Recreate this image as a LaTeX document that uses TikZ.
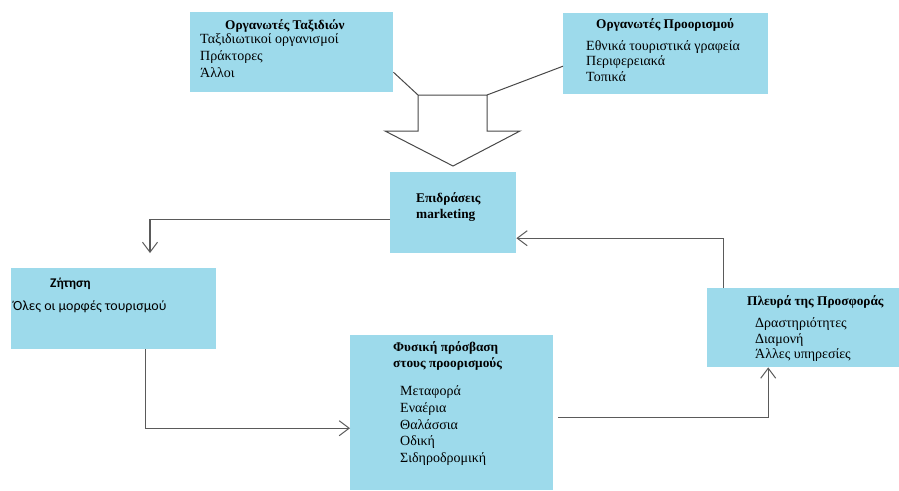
\documentclass[tikz,border=0pt]{standalone}
\usepackage{fontspec}
\setmainfont{Liberation Serif}
\newfontfamily\calfont{Carlito}
\usetikzlibrary{arrows.meta}

\definecolor{boxblue}{RGB}{157,218,235}
\definecolor{linegray}{RGB}{90,90,90}

\begin{document}
\begin{tikzpicture}[x=1pt,y=-1pt,
    box/.style={fill=boxblue,draw=none,anchor=north west,inner sep=0pt},
    txt/.style={anchor=base west,inner sep=0pt,font=\fontsize{14}{16}\selectfont},
    head/.style={txt,font=\fontsize{13.3}{15}\selectfont\bfseries},
    flow/.style={draw=linegray,line width=1.1pt,-{Straight Barb[length=10pt,width=15pt,line width=1pt]}},
    feed/.style={draw=linegray!80!black,line width=1pt}]
        \useasboundingbox (0,0) rectangle (899,490);

        % Boxes
        \node[box,minimum width=203,minimum height=80] (org1) at (190,12) {};
        \node[box,minimum width=205,minimum height=81] (org2) at (563,13) {};
        \node[box,minimum width=126,minimum height=81] (mkt) at (390,172) {};
        \node[box,minimum width=205,minimum height=81] (dem) at (11,268) {};
        \node[box,minimum width=203,minimum height=155] (acc) at (350,335) {};
        \node[box,minimum width=192,minimum height=79] (sup) at (707,288) {};

        % Texts
        \node[head] (org1t) at (225,29) {Οργανωτές Ταξιδιών};
        \node[txt] (org1a) at (200,43) {Ταξιδιωτικοί οργανισμοί};
        \node[txt] (org1b) at (200,60) {Πράκτορες};
        \node[txt] (org1c) at (200,77) {Άλλοι};

        \node[head] (org2t) at (596,28) {Οργανωτές Προορισμού};
        \node[txt] (org2a) at (586,50) {Εθνικά τουριστικά γραφεία};
        \node[txt] (org2b) at (586,65) {Περιφερειακά};
        \node[txt] (org2c) at (586,81) {Τοπικά};

        \node[head] (mktt) at (416,202) {Επιδράσεις};
        \node[head] (mktb) at (416,218) {marketing};

        \node[txt,font=\calfont\fontsize{13.3}{15}\selectfont\bfseries] (demt) at (50,287) {Ζήτηση};
        \node[txt,font=\calfont\fontsize{14}{16}\selectfont] (dema) at (13,310) {Όλες οι μορφές τουρισμού};

        \node[head] (acct) at (393,351) {Φυσική πρόσβαση};
        \node[head] (accu) at (393,367) {στους προορισμούς};
        \node[txt] (acca) at (400,395) {Μεταφορά};
        \node[txt] (accb) at (400,412) {Εναέρια};
        \node[txt] (accc) at (400,429) {Θαλάσσια};
        \node[txt] (accd) at (400,445) {Οδική};
        \node[txt] (acce) at (400,462) {Σιδηροδρομική};

        \node[head] (supt) at (747,305) {Πλευρά της Προσφοράς};
        \node[txt] (supa) at (755,327) {Δραστηριότητες};
        \node[txt] (supb) at (755,343) {Διαμονή};
        \node[txt] (supc) at (755,358) {Άλλες υπηρεσίες};

        % Block arrow
        \coordinate (stemL) at (418,95);
        \coordinate (stemR) at (487,95);
        \draw[feed,fill=white] (stemL) -- (stemR) -- (487,131) -- (520,131)
            -- (453,166) -- (385,131) -- (418,131) -- cycle;
        \draw[feed] ([yshift=-20pt]org1.east) -- (stemL);
        \draw[feed] ([yshift=-12.5pt]org2.west) -- (stemR);

        % Connectors
        \coordinate (demin) at (150,253);
        \draw[flow] ([yshift=-6.5pt]mkt.west) -| (demin);
        \draw[flow] ([xshift=31.5pt]dem.south) |- ([yshift=-15.5pt]acc.west);
        \draw[flow] ([xshift=5pt,yshift=-4.5pt]acc.east) -| ([xshift=-35pt]sup.south);
        \draw[flow] ([xshift=-80pt]sup.north) |- ([yshift=-25.5pt]mkt.east);
    \end{tikzpicture}
\end{document}
